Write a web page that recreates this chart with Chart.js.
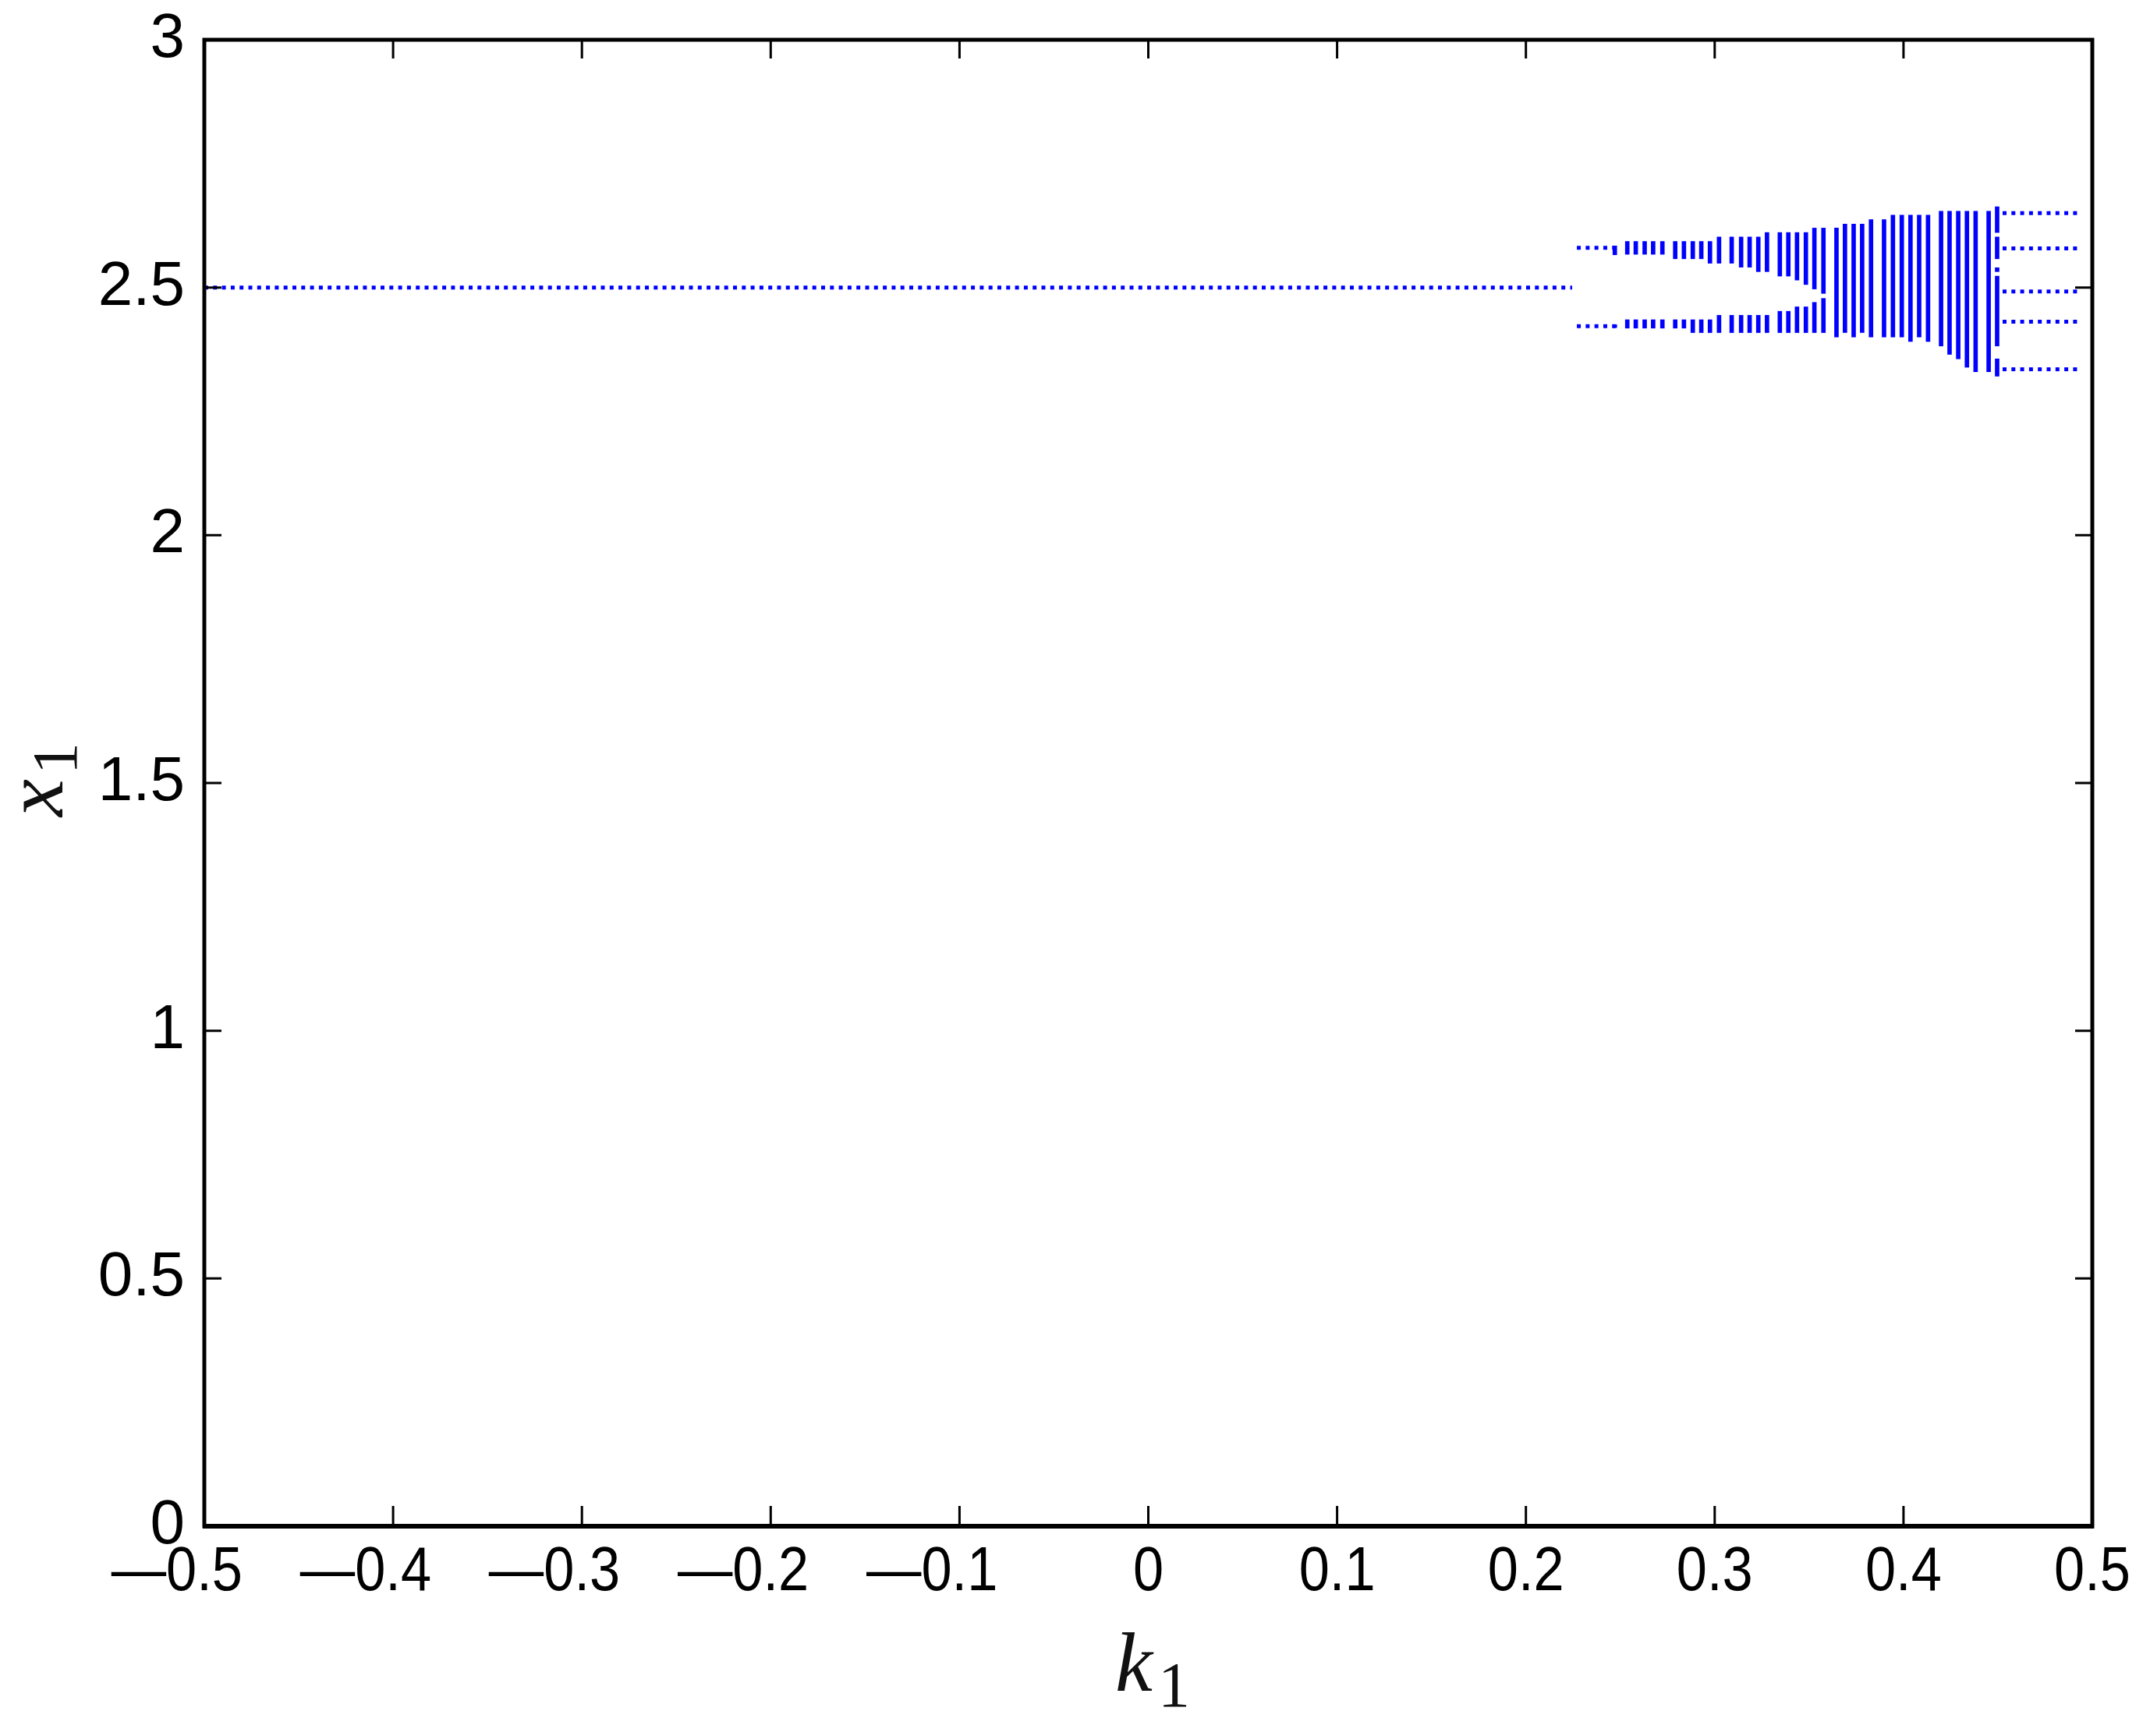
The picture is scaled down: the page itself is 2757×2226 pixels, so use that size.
<!DOCTYPE html>
<html>
<head>
<meta charset="utf-8">
<script src="https://cdn.jsdelivr.net/npm/chart.js@4.4.1/dist/chart.umd.min.js"></script>
<style>
  html, body { margin:0; padding:0; background:#fff; }
  #wrap { width:2757px; height:2226px; position:relative; }
</style>
</head>
<body>
<div id="wrap"><canvas id="bif"></canvas></div>
<script>
'use strict';

// ---- Tick labels ----
const xTicks = [-0.5, -0.4, -0.3, -0.2, -0.1, 0, 0.1, 0.2, 0.3, 0.4, 0.5];
const yTicks = [0, 0.5, 1, 1.5, 2, 2.5, 3];

// ---- Branche stable (x1 = 2.5) ----
const fixedK = [-0.5, 0.2245];
const fixedX = [2.5, 2.5];

// ---- Période 2 avant les bandes ----
const p2K = [0.2270, 0.2475];
const p2Upper = [2.580, 2.580];
const p2Lower = [2.422, 2.422];

// ---- Bandes verticales (k, haut, bas de la bande haute, haut de la bande basse, bas) ----
const barK = [0.2471,0.2537,0.2582,0.2629,0.2674,0.2723,0.2791,0.2837,0.2884,0.2929,
              0.2975,0.3023,0.3090,0.3140,0.3185,0.3231,0.3277,0.3345,0.3390,0.3436,
              0.3483,0.3528,0.3576,0.3645,0.3690,0.3736,0.3781,0.3828,0.3897,0.3944,
              0.3991,0.4037,0.4083,0.4130,0.4199,0.4244,0.4290,0.4336,0.4382,0.4451];
const barTop = [2.584,2.593,2.593,2.593,2.593,2.593,2.593,2.593,2.593,2.593,
                2.593,2.602,2.602,2.602,2.602,2.602,2.611,2.611,2.611,2.611,
                2.611,2.620,2.620,2.620,2.628,2.628,2.628,2.637,2.637,2.646,
                2.646,2.646,2.646,2.646,2.654,2.654,2.654,2.654,2.654,2.654];
const upperBottom = [2.566,2.567,2.567,2.567,2.567,2.567,2.558,2.558,2.558,2.558,
                     2.549,2.549,2.549,2.541,2.541,2.532,2.532,2.523,2.523,2.515,
                     2.506,2.497,2.488];
const lowerTop = [2.425,2.435,2.435,2.435,2.435,2.435,2.435,2.435,2.435,2.435,
                  2.435,2.444,2.444,2.444,2.444,2.444,2.444,2.452,2.452,2.461,
                  2.461,2.470,2.478];
const barBottom = [2.419,2.418,2.418,2.418,2.418,2.418,2.418,2.418,2.409,2.409,
                   2.409,2.409,2.409,2.409,2.409,2.409,2.409,2.409,2.409,2.409,
                   2.409,2.409,2.409,2.400,2.409,2.400,2.409,2.400,2.400,2.400,
                   2.400,2.391,2.400,2.391,2.382,2.365,2.356,2.339,2.330,2.330];

// ---- Dernière bande, coupée en morceaux ----
const lastK = 0.4496;
const lastLo = [2.611, 2.558, 2.532, 2.382, 2.321];
const lastHi = [2.663, 2.602, 2.540, 2.523, 2.356];

// ---- Période 5 à droite ----
const tailK = [0.4525, 0.4940];
const tailLevels = [2.650, 2.579, 2.492, 2.431, 2.335];

const BLUE = '#0000ff';
const TICK_FAMILY = "'Liberation Sans',Arial,sans-serif";
const fmtX = v => Math.abs(v) < 1e-9 ? '0' : (v < 0 ? '\u2014' + Math.abs(v).toFixed(1) : v.toFixed(1));

const dotted = (k, v) => ({
  type:'line', data:k.map((x,i) => ({x, y:v[i]})),
  borderColor:BLUE, borderWidth:5, borderDash:[5,6.3], borderCapStyle:'butt',
  pointRadius:0, fill:false, tension:0, order:2
});
const bars = (data) => ({
  type:'bar', data, backgroundColor:BLUE, borderWidth:0,
  barThickness:5, grouped:false, order:1
});

const datasets = [
  dotted(fixedK, fixedX),
  dotted(p2K, p2Upper),
  dotted(p2K, p2Lower),
  ...tailLevels.map(l => dotted(tailK, tailK.map(() => l))),
  bars(barK.map((k,i) => ({ x:k, y:[upperBottom[i] ?? barBottom[i], barTop[i]] }))),
  bars(upperBottom.map((_,i) => ({ x:barK[i], y:[barBottom[i], lowerTop[i]] }))),
  bars(lastLo.map((lo,i) => ({ x:lastK, y:[lo, lastHi[i]] })))
];

// Cadre, graduations vers l'intérieur, étiquettes de k1 et titres
const framePlugin = {
  id:'frame',
  afterDraw(chart) {
    const {ctx, chartArea:a, scales:{x, y}} = chart;
    ctx.save();
    ctx.strokeStyle = '#000';
    ctx.lineWidth = 3;
    xTicks.forEach(v => {
      const px = x.getPixelForValue(v);
      ctx.beginPath();
      ctx.moveTo(px, a.bottom); ctx.lineTo(px, a.bottom - 26);
      ctx.moveTo(px, a.top);    ctx.lineTo(px, a.top + 24);
      ctx.stroke();
    });
    yTicks.forEach(v => {
      const py = y.getPixelForValue(v);
      ctx.beginPath();
      ctx.moveTo(a.left, py);  ctx.lineTo(a.left + 22, py);
      ctx.moveTo(a.right, py); ctx.lineTo(a.right - 22, py);
      ctx.stroke();
    });
    ctx.lineWidth = 5;
    ctx.strokeRect(a.left, a.top, a.right - a.left, a.bottom - a.top);
    ctx.lineWidth = 6;
    ctx.beginPath(); ctx.moveTo(a.left - 2, a.bottom); ctx.lineTo(a.right + 2, a.bottom); ctx.stroke();

    // étiquettes de l'axe k1 (un peu étroites, le tiret déborde à gauche)
    ctx.fillStyle = '#000';
    ctx.font = '80px ' + TICK_FAMILY;
    ctx.textBaseline = 'middle';
    xTicks.forEach(v => {
      const label = fmtX(v);
      const digits = label.replace('\u2014', '');
      ctx.save();
      ctx.translate(x.getPixelForValue(v), a.bottom + 60);
      ctx.scale(0.88, 1);
      ctx.textAlign = 'right';
      ctx.fillText(label, ctx.measureText(digits).width / 2, 0);
      ctx.restore();
    });

    // Titres des axes : k1 et x1 avec indice
    ctx.fillStyle = '#111';
    ctx.textAlign = 'left';
    ctx.textBaseline = 'alphabetic';
    ctx.font = "italic 108px 'Liberation Serif','DejaVu Serif',serif";
    ctx.fillText('k', 1430, 2168);
    ctx.font = "82px 'Liberation Serif','DejaVu Serif',serif";
    ctx.fillText('1', 1485, 2188);

    ctx.translate(80, 1047);
    ctx.rotate(-Math.PI / 2);
    ctx.font = "italic 108px 'Liberation Serif','DejaVu Serif',serif";
    ctx.fillText('x', 0, 0);
    ctx.font = "82px 'Liberation Serif','DejaVu Serif',serif";
    ctx.fillText('1', 54, 18);
    ctx.restore();
  }
};

new Chart(document.getElementById('bif').getContext('2d'), {
  type:'line',
  data:{ datasets },
  options:{
    responsive:true, maintainAspectRatio:false, animation:false,
    layout:{ padding:{ top:51, right:74, left:0, bottom:0 } },
    plugins:{ legend:{display:false}, tooltip:{enabled:false} },
    scales:{
      x:{
        type:'linear', min:-0.5, max:0.5, offset:false,
        afterBuildTicks: s => { s.ticks = xTicks.map(value => ({value})); },
        afterFit: s => { s.height = 269; s.paddingLeft = 0; s.paddingRight = 0; },
        grid:{ display:false, drawTicks:false }, border:{ display:false },
        ticks:{ display:false }
      },
      y:{
        type:'linear', min:0, max:3,
        afterBuildTicks: s => { s.ticks = yTicks.map(value => ({value})); },
        afterFit: s => { s.width = 262; s.paddingTop = 0; s.paddingBottom = 0; },
        grid:{ display:false, drawTicks:false }, border:{ display:false },
        ticks:{ color:'#000', font:{ family:TICK_FAMILY, size:80 }, padding:25, autoSkip:false,
          callback: v => String(v) }
      }
    }
  },
  plugins:[framePlugin]
});
</script>
</body>
</html>
